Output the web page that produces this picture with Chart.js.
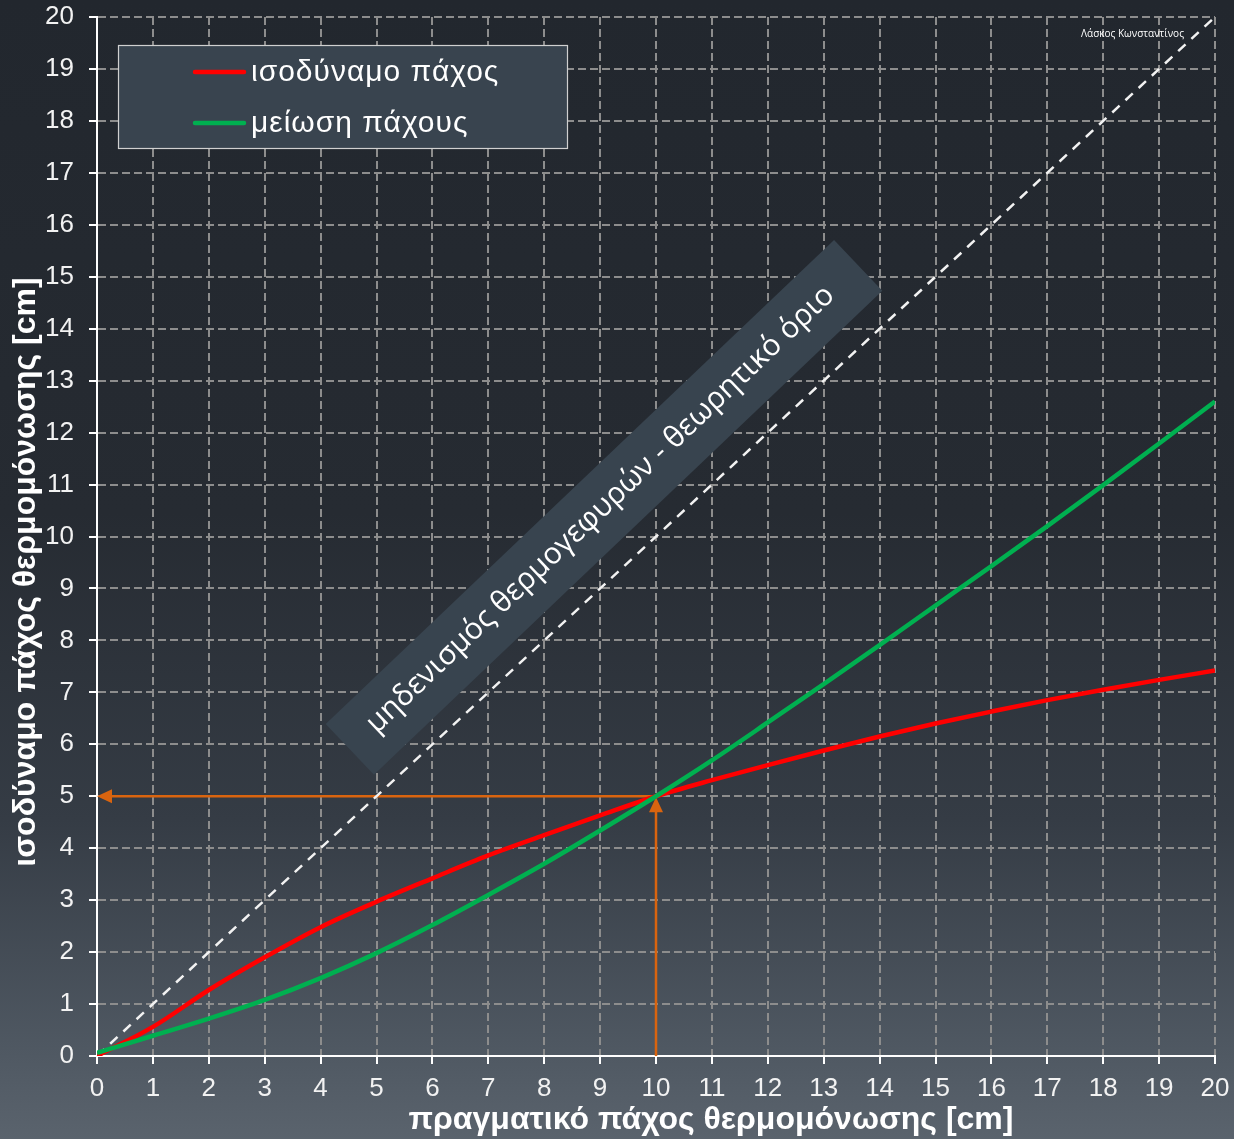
<!DOCTYPE html>
<html>
<head>
<meta charset="utf-8">
<script src="https://cdn.jsdelivr.net/npm/chart.js@4.4.1/dist/chart.umd.min.js"></script>
<style>
    html, body { margin: 0; padding: 0; background: #22272e; }
    #wrap { width: 1234px; height: 1139px; position: relative; }
</style>
</head>
<body>
<div id="wrap"><canvas id="myLineChart" width="1234" height="1139"></canvas></div>
<script>
// τιμές από το διάγραμμα
const xValues = [0, 1, 2, 3, 4, 5, 6, 7, 8, 9, 10, 11, 12, 13, 14, 15, 16, 17, 18, 19, 20];
const equivalentThickness = [0, 0.56, 1.27, 1.9, 2.48, 2.97, 3.42, 3.86, 4.25, 4.63, 5.0, 5.31, 5.6, 5.88, 6.15, 6.4, 6.63, 6.85, 7.05, 7.24, 7.42];
const thicknessReduction = [0.06, 0.39, 0.72, 1.08, 1.5, 1.98, 2.52, 3.1, 3.7, 4.34, 5.0, 5.69, 6.42, 7.16, 7.91, 8.67, 9.43, 10.2, 10.99, 11.79, 12.6];
const limitX = [0, 20];
const limitY = [0, 20];
const guidePoint = [10, 5];
const tickValues = [0, 1, 2, 3, 4, 5, 6, 7, 8, 9, 10, 11, 12, 13, 14, 15, 16, 17, 18, 19, 20];

const seriesLabels = ['ισοδύναμο πάχος', 'μείωση πάχους'];
const xTitle = 'πραγματικό πάχος θερμομόνωσης [cm]';
const yTitle = 'ισοδύναμο πάχος θερμομόνωσης [cm]';
const boxText = 'μηδενισμός θερμογεφυρών - θεωρητικό όριο';
const authorText = 'Λάσκος Κωνσταντίνος';

const ORANGE = '#d9640f';

function toPoints(xs, ys) {
    return xs.map(function (x, i) { return { x: x, y: ys[i] }; });
}

// φόντο με διαβάθμιση
const backgroundPlugin = {
    id: 'bg',
    beforeDraw: function (chart) {
        const ctx = chart.ctx;
        const g = ctx.createLinearGradient(0, 0, 0, chart.height);
        g.addColorStop(0, '#22272e');
        g.addColorStop(0.45, '#262b32');
        g.addColorStop(0.72, '#353c45');
        g.addColorStop(0.92, '#4f5862');
        g.addColorStop(1, '#5a636d');
        ctx.save();
        ctx.fillStyle = g;
        ctx.fillRect(0, 0, chart.width, chart.height);
        ctx.restore();
    }
};

// πλαίσιο κειμένου, βέλη
const extrasPlugin = {
    id: 'extras',
    beforeDatasetsDraw: function (chart) {
        const ctx = chart.ctx;
        const xs = chart.scales.x;
        const ys = chart.scales.y;

        // βέλη στο (10,5)
        const px = xs.getPixelForValue(guidePoint[0]);
        const py = ys.getPixelForValue(guidePoint[1]);
        const x0 = xs.getPixelForValue(0);
        const y0 = ys.getPixelForValue(0);
        ctx.save();
        ctx.strokeStyle = ORANGE;
        ctx.fillStyle = ORANGE;
        ctx.lineWidth = 2.5;
        ctx.beginPath();
        ctx.moveTo(px, py);
        ctx.lineTo(x0 + 12, py);
        ctx.moveTo(px, y0);
        ctx.lineTo(px, py + 12);
        ctx.stroke();
        ctx.beginPath();
        ctx.moveTo(x0, py);
        ctx.lineTo(x0 + 15, py - 7);
        ctx.lineTo(x0 + 15, py + 7);
        ctx.closePath();
        ctx.fill();
        ctx.beginPath();
        ctx.moveTo(px, py + 1);
        ctx.lineTo(px - 7, py + 16);
        ctx.lineTo(px + 7, py + 16);
        ctx.closePath();
        ctx.fill();
        ctx.restore();

        // περιστραμμένο πλαίσιο
        const cx = xs.getPixelForValue(9.07);
        const cy = ys.getPixelForValue(10.56);
        ctx.save();
        ctx.translate(cx, cy);
        ctx.rotate(-43.6 * Math.PI / 180);
        ctx.fillStyle = '#38444f';
        ctx.fillRect(-351, -35, 702, 70);
        ctx.fillStyle = '#ffffff';
        ctx.font = '30px "Open Sans"';
        ctx.textAlign = 'center';
        ctx.textBaseline = 'middle';
        ctx.fillText(boxText, -4, -1);
        ctx.restore();
    },
    afterDraw: function (chart) {
        const ctx = chart.ctx;
        ctx.save();

        // τίτλοι αξόνων
        ctx.fillStyle = '#ffffff';
        ctx.font = 'bold 32px "Liberation Sans"';
        ctx.textAlign = 'center';
        ctx.textBaseline = 'middle';
        ctx.fillText(xTitle, 711, 1120);
        ctx.save();
        ctx.translate(26, 572);
        ctx.rotate(-Math.PI / 2);
        ctx.fillText(yTitle, 0, 0);
        ctx.restore();

        // υπόμνημα
        const lx = 118, ly = 45, lw = 449, lh = 103;
        ctx.fillStyle = '#39444f';
        ctx.fillRect(lx, ly, lw, lh);
        ctx.strokeStyle = '#d0d0d0';
        ctx.lineWidth = 1.2;
        ctx.strokeRect(lx + 0.5, ly + 0.5, lw, lh);
        ctx.font = '30px "Liberation Sans"';
        ctx.letterSpacing = '1px';
        ctx.textAlign = 'left';
        const items = chart.data.datasets.filter(function (d) { return d.showInLegend; });
        items.forEach(function (d, i) {
            const yy = ly + 27 + i * 51;
            ctx.strokeStyle = d.borderColor;
            ctx.lineWidth = 4.5;
            ctx.lineCap = 'round';
            ctx.beginPath();
            ctx.moveTo(195, yy);
            ctx.lineTo(244, yy);
            ctx.stroke();
            ctx.fillStyle = '#ffffff';
            ctx.fillText(d.label, 251, yy + 1);
        });
        ctx.letterSpacing = '0px';

        // όνομα
        ctx.font = '10px "Open Sans"';
        ctx.fillStyle = '#ffffff';
        ctx.textAlign = 'left';
        ctx.fillText(authorText, 1081, 34);
        ctx.restore();
    }
};

function createChart() {
    var data = {
        datasets: [
            {
                label: seriesLabels[0],
                data: toPoints(xValues, equivalentThickness),
                borderColor: '#ff0000',
                borderWidth: 4.5,
                cubicInterpolationMode: 'monotone',
                pointRadius: 0,
                fill: false,
                order: 1,
                showInLegend: true
            },
            {
                label: seriesLabels[1],
                data: toPoints(xValues, thicknessReduction),
                borderColor: '#00b050',
                borderWidth: 4.5,
                cubicInterpolationMode: 'monotone',
                pointRadius: 0,
                fill: false,
                order: 0,
                showInLegend: true
            },
            {
                label: 'όριο',
                data: toPoints(limitX, limitY),
                borderColor: '#f2f2f2',
                borderWidth: 2.5,
                borderDash: [10, 8],
                pointRadius: 0,
                fill: false,
                order: 2,
                showInLegend: false
            }
        ]
    };

    var axisCommon = {
        type: 'linear',
        min: 0,
        max: 20,
        afterBuildTicks: function (scale) {
            scale.ticks = tickValues.map(function (v) { return { value: v }; });
        },
        grid: {
            color: '#8d8d8d',
            lineWidth: 2,
            tickColor: '#ffffff',
            tickWidth: 2,
            tickLength: 8,
            tickBorderDash: []
        },
        border: {
            color: '#ffffff',
            width: 2,
            dash: [8, 4]
        }
    };

    var options = {
        responsive: false,
        animation: false,
        layout: {
            padding: { top: 17, right: 19, left: 0, bottom: 0 }
        },
        plugins: {
            legend: { display: false },
            tooltip: { enabled: false }
        },
        scales: {
            x: Object.assign({}, axisCommon, {
                position: 'bottom',
                afterFit: function (s) {
                    s.height = 83;
                    s.paddingLeft = 0;
                    s.paddingRight = 0;
                },
                ticks: {
                    color: '#f2f2f2',
                    font: { family: 'Liberation Sans', size: 26 },
                    padding: 9,
                    maxRotation: 0
                }
            }),
            y: Object.assign({}, axisCommon, {
                position: 'left',
                afterFit: function (s) {
                    s.width = 97;
                    s.paddingTop = 0;
                    s.paddingBottom = 0;
                },
                ticks: {
                    color: '#f2f2f2',
                    font: { family: 'Liberation Sans', size: 26 },
                    padding: 15
                }
            })
        }
    };

    var ctx = document.getElementById('myLineChart').getContext('2d');
    var myLineChart = new Chart(ctx, {
        type: 'line',
        data: data,
        options: options,
        plugins: [backgroundPlugin, extrasPlugin]
    });
}

document.addEventListener("DOMContentLoaded", function () {
    createChart();
});
</script>
</body>
</html>
